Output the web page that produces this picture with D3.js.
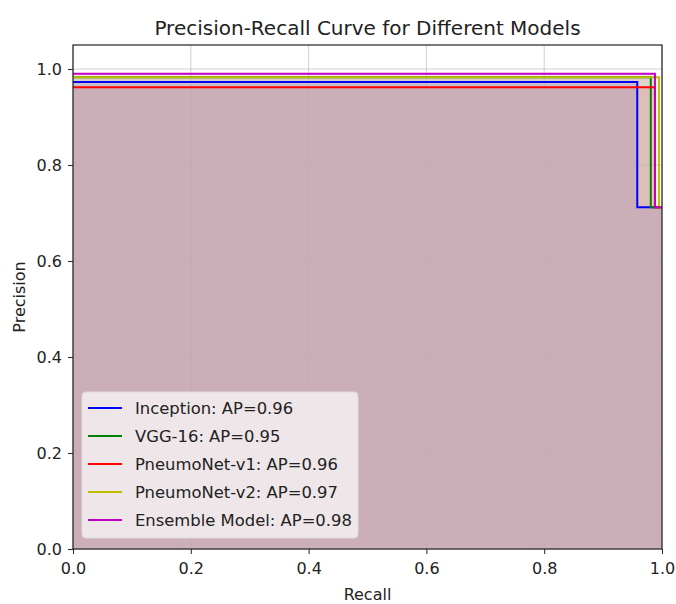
<!DOCTYPE html>
<html>
<head>
<meta charset="utf-8">
<script src="https://cdn.jsdelivr.net/npm/d3@7"></script>
<style>
  body { margin: 0; background: #fff; }
  text { font-family: "DejaVu Sans", sans-serif; fill: #222; }
</style>
</head>
<body>
<script>
// chart size
var width = 676,
    height = 604;
var margin = {top: 45, right: 14, bottom: 55, left: 73};

// data
var models = ["Inception", "VGG-16", "PneumoNet-v1", "PneumoNet-v2", "Ensemble Model"];
var apScores = [0.96, 0.95, 0.96, 0.97, 0.98];
var colors = ["#0000ff", "#008000", "#ff0000", "#bfbf00", "#bf00bf"];
// each curve: recall points and precision (step after)
var recallPts = [
  [0, 0.958, 1.0],
  [0, 0.981, 1.0],
  [0, 0.988, 1.0],
  [0, 0.995, 1.0],
  [0, 0.988, 1.0]
];
var precisionPts = [
  [0.973, 0.712, 0.712],
  [0.983, 0.712, 0.712],
  [0.962, 0.712, 0.712],
  [0.983, 0.712, 0.712],
  [0.990, 0.712, 0.712]
];
var tickValues = [0, 0.2, 0.4, 0.6, 0.8, 1.0];

var svg = d3.select("body")
            .append("svg")
            .attr("width", width)
            .attr("height", height);

var w = width - margin.left - margin.right,
    h = height - margin.top - margin.bottom;

var x = d3.scaleLinear().domain([0, 1]).range([0, w]);
var y = d3.scaleLinear().domain([0, 1.05]).range([h, 0]);

var g = svg.append("g")
    .attr("transform", "translate(" + margin.left + "," + margin.top + ")");

var series = models.map(function(m, i) {
  return recallPts[i].map(function(r, j) { return {r: r, p: precisionPts[i][j]}; });
});

// fills under each curve
var area = d3.area()
    .curve(d3.curveStepAfter)
    .x(function(d) { return x(d.r); })
    .y0(y(0))
    .y1(function(d) { return y(d.p); });

g.selectAll("path.fill")
  .data(series)
  .enter().append("path")
    .attr("class", "fill")
    .attr("d", area)
    .attr("fill", function(d, i) { return colors[i]; })
    .attr("fill-opacity", 0.1);

// grid
g.append("g")
    .selectAll("line")
    .data(tickValues)
    .enter().append("line")
    .attr("x1", function(d) { return x(d); })
    .attr("x2", function(d) { return x(d); })
    .attr("y1", 0).attr("y2", h)
    .attr("stroke", "#b0b0b0").attr("stroke-opacity", 0.6).attr("stroke-width", 1);
g.append("g")
    .selectAll("line")
    .data(tickValues)
    .enter().append("line")
    .attr("y1", function(d) { return y(d); })
    .attr("y2", function(d) { return y(d); })
    .attr("x1", 0).attr("x2", w)
    .attr("stroke", "#b0b0b0").attr("stroke-opacity", 0.6).attr("stroke-width", 1);

// curves
var line = d3.line()
    .curve(d3.curveStepAfter)
    .x(function(d) { return x(d.r); })
    .y(function(d) { return y(d.p); });

g.selectAll("path.curve")
  .data(series)
  .enter().append("path")
    .attr("class", "curve")
    .attr("d", line)
    .attr("fill", "none")
    .attr("stroke", function(d, i) { return colors[i]; })
    .attr("stroke-width", 2);

// axes
var fmt = d3.format(".1f");
var xAxis = g.append("g")
    .attr("transform", "translate(0," + h + ")")
    .call(d3.axisBottom(x).tickValues(tickValues).tickFormat(fmt).tickSize(5).tickPadding(9));
var yAxis = g.append("g")
    .call(d3.axisLeft(y).tickValues(tickValues).tickFormat(fmt).tickSize(5).tickPadding(6));
[xAxis, yAxis].forEach(function(a) {
  a.select(".domain").remove();
  a.selectAll("text").attr("font-size", 16).attr("fill", "#222").attr("font-family", "DejaVu Sans");
  a.selectAll("line").attr("stroke", "#222");
});

// frame
g.append("rect")
    .attr("width", w).attr("height", h)
    .attr("fill", "none").attr("stroke", "#222").attr("stroke-width", 1.2);

// titles
svg.append("text")
    .attr("x", margin.left + w / 2).attr("y", 35)
    .attr("text-anchor", "middle").attr("font-size", 20)
    .text("Precision-Recall Curve for Different Models");
svg.append("text")
    .attr("x", margin.left + w / 2).attr("y", 600)
    .attr("text-anchor", "middle").attr("font-size", 16)
    .text("Recall");
svg.append("text")
    .attr("transform", "translate(25," + (margin.top + h / 2) + ") rotate(-90)")
    .attr("text-anchor", "middle").attr("font-size", 16)
    .text("Precision");

// legend
var leg = g.append("g").attr("transform", "translate(9," + (h - 157) + ")");
leg.append("rect")
    .attr("width", 276).attr("height", 146).attr("rx", 4)
    .attr("fill", "#f6f4f5").attr("fill-opacity", 0.8)
    .attr("stroke", "#ddd");
var item = leg.selectAll("g.item")
  .data(models)
  .enter().append("g")
    .attr("class", "item")
    .attr("transform", function(d, i) { return "translate(0," + (16 + i * 28) + ")"; });
item.append("line")
    .attr("x1", 6).attr("x2", 40)
    .attr("stroke", function(d, i) { return colors[i]; })
    .attr("stroke-width", 2);
item.append("text")
    .attr("x", 53).attr("y", 6)
    .attr("font-size", 16.4)
    .text(function(d, i) { return d + ": AP=" + apScores[i].toFixed(2); });
</script>
</body>
</html>
